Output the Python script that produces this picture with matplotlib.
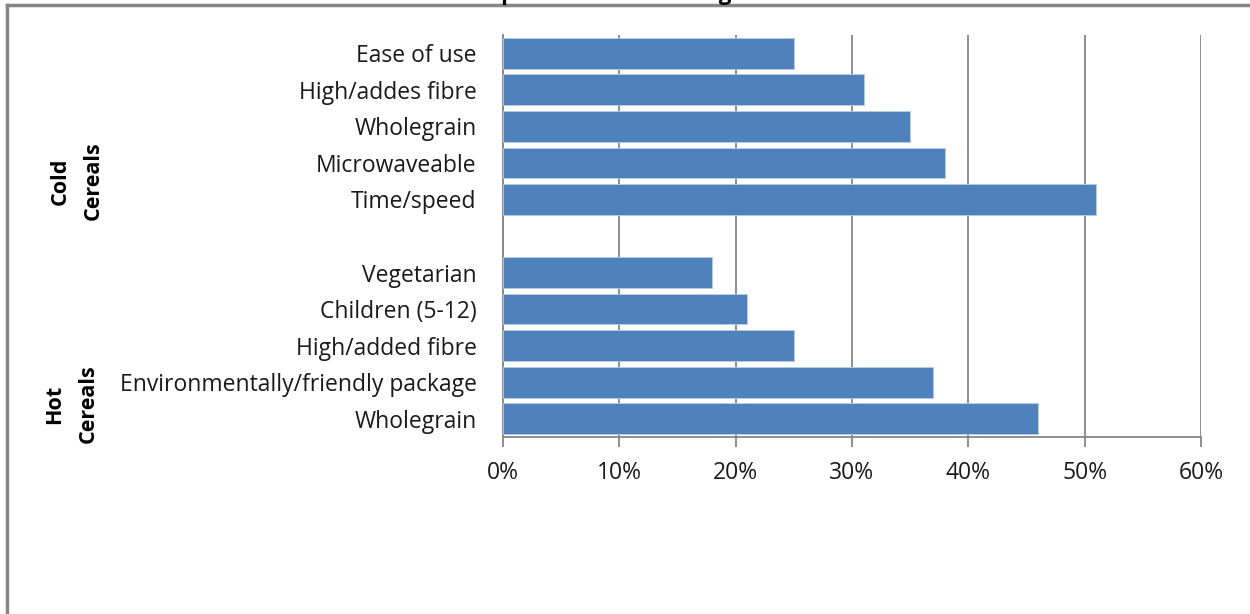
import numpy as np
import matplotlib.pyplot as plt
from matplotlib.lines import Line2D

plt.rcParams['font.family'] = ['Open Sans', 'DejaVu Sans']

# data, top to bottom as drawn
cold_labels = ["Ease of use", "High/addes fibre", "Wholegrain", "Microwaveable", "Time/speed"]
cold_values = [25, 31, 35, 38, 51]
hot_labels = ["Vegetarian", "Children (5-12)", "High/added fibre",
              "Environmentally/friendly package", "Wholegrain"]
hot_values = [18, 21, 25, 37, 46]
x_ticks = [0, 10, 20, 30, 40, 50, 60]
title = "from September 2009 to August 2010"

W, H = 1250, 614
fig = plt.figure(figsize=(W / 100, H / 100), dpi=100)
fig.patch.set_facecolor('white')

left, right, top, bottom = 503, 1201, 35, 437
ax = fig.add_axes([left / W, 1 - bottom / H, (right - left) / W, (bottom - top) / H])

labels = cold_labels + [""] + hot_labels
values = cold_values + [np.nan] + hot_values
ypos = np.arange(len(labels))[::-1]

ax.barh(ypos, values, height=0.84, color='#4F81BD', edgecolor='#B9CDE5',
        linewidth=0.6, zorder=3)
ax.set_ylim(-0.5, len(labels) - 0.5)
ax.set_xlim(0, 60)
ax.set_yticks(ypos)
ax.set_yticklabels(labels, fontsize=16.5, color='#1a1a1a')
ax.tick_params(axis='y', length=0, pad=19)
ax.set_xticks(x_ticks)
ax.set_xticklabels([f"{t}%" for t in x_ticks], fontsize=16.5, color='#1a1a1a')
ax.tick_params(axis='x', direction='out', length=7.5, width=1.3, color='#868686', pad=10)

ax.grid(axis='x', color='#868686', linewidth=1.3, zorder=0)
for s in ['top', 'right']:
    ax.spines[s].set_visible(False)
for s in ['left', 'bottom']:
    ax.spines[s].set_color('#868686')
    ax.spines[s].set_linewidth(1.3)

# group labels
def px(x, y):
    return x / W, 1 - y / H

for txt, (x, y) in [("Cold", (60, 181)), ("Cereals", (93, 181)),
                    ("Hot", (55, 404)), ("Cereals", (88, 404))]:
    fig.text(*px(x, y), txt, rotation=90, fontsize=15.5, fontweight='bold',
             ha='center', va='center', color='black')

# outer frame (top and left edges visible)
fig.add_artist(Line2D([6.5 / W, 1], [1 - 5 / H, 1 - 5 / H], color='#868686', lw=2.5,
                      transform=fig.transFigure))
fig.add_artist(Line2D([6.5 / W, 6.5 / W], [0, 1 - 5 / H], color='#868686', lw=2.5,
                      transform=fig.transFigure))

# title, mostly clipped off the top like the reference
fig.text(*px(620, 0), title, fontsize=16, fontweight='bold', ha='center',
         va='baseline', color='black')

fig.savefig('out.png', dpi=100)
